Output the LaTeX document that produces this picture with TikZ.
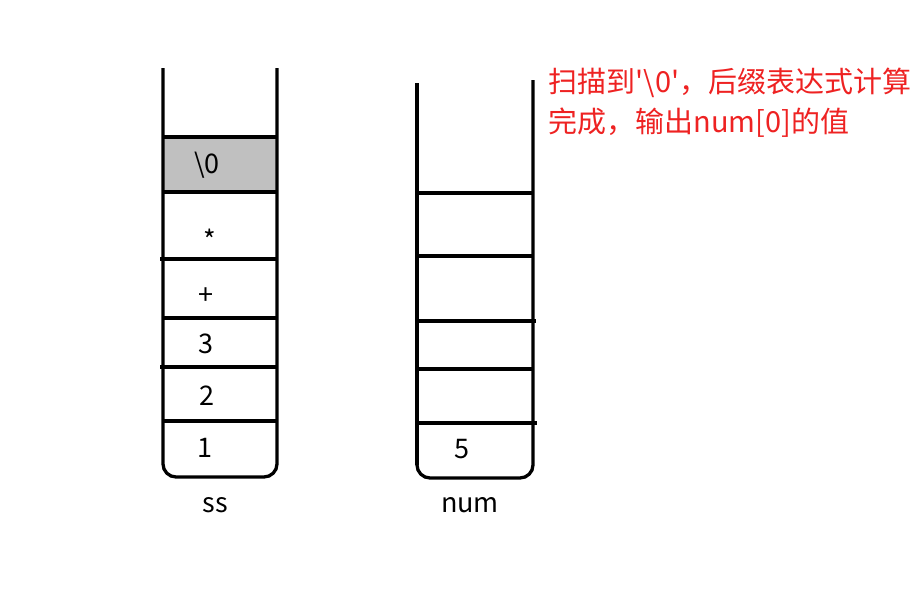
\documentclass[tikz,border=0pt]{standalone}
\usepackage{fontspec}
\setmainfont{Noto Sans CJK SC}
\definecolor{cellgray}{RGB}{192,192,192}
\definecolor{notered}{RGB}{238,34,34}
\tikzset{cell/.style={font=\fontsize{27}{27}\selectfont}}
\begin{document}
\begin{tikzpicture}[x=1pt,y=-1pt,line width=3.3pt]
\useasboundingbox (0,0) rectangle (921,605);

% ss
\fill[cellgray] (163,137) rectangle (277,192);
\draw[rounded corners=13pt] (163,68) -- (163,477) -- (277,477) -- (277,68);
\draw (163,137) -- (277,137);
\draw (163,192) -- (277,192);
\draw (160,259) -- (277,259);
\draw (163,318) -- (277,318);
\draw (160,367) -- (277,367);
\draw (163,421) -- (277,421);

\node[cell] (ss0) at (207,165) {\textbackslash 0};
\node[cell] (ssmul) at (210,240) {*};
\node[cell] (ssadd) at (206,296) {+};
\node[cell] (ss3) at (206,344) {3};
\node[cell] (ss2) at (207,396) {2};
\node[cell] (ss1) at (205,448) {1};
\node[cell] (sslabel) at (215,505) {ss};

% num
\draw (417,83) -- (417,465);
\draw[rounded corners=13pt] (417,440) -- (417,478) -- (533,478) -- (533,80);
\draw (417,193) -- (533,193);
\draw (417,256) -- (533,256);
\draw (417,321) -- (536,321);
\draw (417,369) -- (533,369);
\draw (417,423) -- (537,423);

\node[cell] (num5) at (462,449) {5};
\node[cell] (numlabel) at (470,505) {num};

\node[anchor=north west, align=left, text=notered, inner sep=0pt,
  font=\fontsize{29}{40}\selectfont] (note) at (547,66)
  {扫描到\textquotesingle\textbackslash 0\textquotesingle，后缀表达式计算\\完成，输出num[0]的值};

\end{tikzpicture}
\end{document}
